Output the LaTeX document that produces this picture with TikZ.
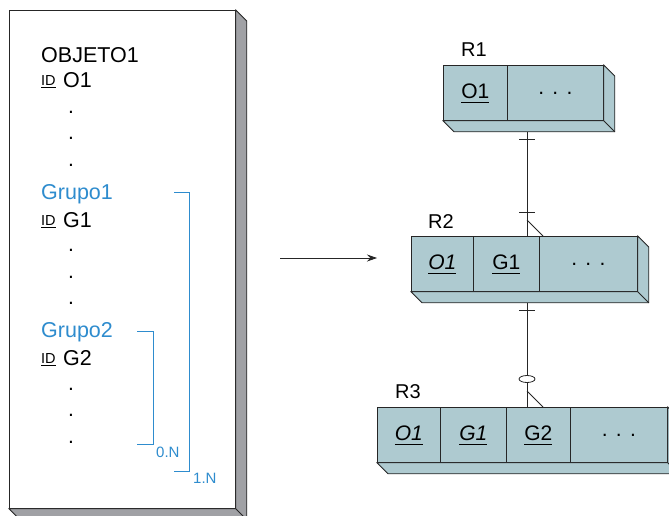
\documentclass[tikz,border=0pt]{standalone}
\usepackage{fontspec}
\setmainfont{Liberation Sans}
\usetikzlibrary{calc,arrows.meta}
\definecolor{boxc}{RGB}{174,202,208}
\definecolor{blu}{RGB}{46,140,206}
\definecolor{sidec}{RGB}{160,161,165}
\newcommand\uline[2][4pt]{\setbox0\hbox{#2}\rlap{\rule[-#1]{\wd0}{0.6pt}}\box0}
\newcommand\boxdepth[3]{%
  \draw[line width=0.8pt, draw=black!85, fill=#3] (#1.south west) -- ++(11,11) -- ($(#2.south east)+(11,11)$) -- ($(#2.north east)+(11,11)$) -- (#2.north east) -- (#2.south east) -- cycle;
  \draw[line width=0.8pt, draw=black!85] (#2.south east) -- ++(11,11);}
\begin{document}
\begin{tikzpicture}[x=1pt,y=-1pt,
  cell/.style={draw=black!85, fill=boxc, line width=0.8pt, minimum height=55pt, inner sep=0pt, anchor=north west, font=\fontsize{21}{21}\selectfont},
  txt/.style={anchor=base west, inner sep=0pt, font=\fontsize{21.5}{21.5}\selectfont},
  idt/.style={anchor=base west, inner sep=0pt, font=\fontsize{14.5}{14.5}\selectfont},
  lab/.style={anchor=base west, inner sep=0pt, text=blu, font=\fontsize{15}{15}\selectfont},
  rlab/.style={anchor=base west, inner sep=0pt, font=\fontsize{20}{20}\selectfont},
  dotn/.style={anchor=base, inner sep=0pt, font=\fontsize{21}{21}\selectfont},
  conn/.style={line width=0.8pt, draw=black!85},
  brk/.style={line width=0.8pt, draw=blu}]
\useasboundingbox (0,0) rectangle (669,515);
\clip (0,0) rectangle (669,515);
% left object box
\node[draw=black!85, line width=0.8pt, fill=white, minimum width=226pt, minimum height=498pt, inner sep=0pt, anchor=north west] (obj) at (9,10) {};
\boxdepth{obj}{obj}{sidec}
\node[txt] (t0) at (41,62) {OBJETO1};
\node[idt] (i1) at (41,85) {\uline[3pt]{ID}};
\node[txt] (o1) at (63,87) {O1};
\node[dotn] (d1) at (71,113) {.};
\node[dotn] (d2) at (71,139) {.};
\node[dotn] (d3) at (71,166) {.};
\node[txt, text=blu] (g1t) at (41,199) {Grupo1};
\node[idt] (i2) at (41,225) {\uline[3pt]{ID}};
\node[txt] (g1) at (63,227) {G1};
\node[dotn] (d4) at (71,251) {.};
\node[dotn] (d5) at (71,278) {.};
\node[dotn] (d6) at (71,304) {.};
\node[txt, text=blu] (g2t) at (41,337) {Grupo2};
\node[idt] (i3) at (41,363) {\uline[3pt]{ID}};
\node[txt] (g2) at (63,365) {G2};
\node[dotn] (d7) at (71,390) {.};
\node[dotn] (d8) at (71,416) {.};
\node[dotn] (d9) at (71,443) {.};
% brackets
\draw[brk] (174,192) -- (189,192) -- (189,471) -- (174,471);
\draw[brk] (137,331) -- (153,331) -- (153,444) -- (137,444);
\node[lab] (l1) at (193,483) {1.N};
\node[lab] (l0) at (156,457) {0.N};
% arrow
\coordinate (a1) at (280,258);
\coordinate (a2) at (377,258);
\draw[conn, -{Stealth[length=10pt,width=7pt]}] (a1) -- (a2);
% R1
\node[rlab] (R1) at (461,56) {R1};
\node[cell, minimum width=64pt] (r1a) at (443,65) {\uline{O1}};
\node[cell, minimum width=96pt] (r1b) at (507,65) {.\hspace{0.4em}.\hspace{0.4em}.};
\boxdepth{r1a}{r1b}{boxc}
% R2
\node[rlab] (R2) at (428,228) {R2};
\node[cell, minimum width=62pt] (r2a) at (411,236) {\uline{\itshape O1}};
\node[cell, minimum width=66pt] (r2b) at (473,236) {\uline{G1}};
\node[cell, minimum width=98pt] (r2c) at (539,236) {.\hspace{0.4em}.\hspace{0.4em}.};
\boxdepth{r2a}{r2c}{boxc}
% R3
\node[rlab] (R3) at (395,398) {R3};
\node[cell, minimum width=63pt] (r3a) at (377,407) {\uline{\itshape O1}};
\node[cell, minimum width=66pt] (r3b) at (440,407) {\uline{\itshape G1}};
\node[cell, minimum width=64pt] (r3c) at (506,407) {\uline{G2}};
\node[cell, minimum width=97pt] (r3d) at (570,407) {.\hspace{0.4em}.\hspace{0.4em}.};
\boxdepth{r3a}{r3d}{boxc}
% connectors
\coordinate (cx) at (527,0);
\coordinate (t1) at ($(r1b.south -| cx)+(0,11)$);
\coordinate (t2) at (r2a.north -| cx);
\coordinate (t3) at ($(r2b.south -| cx)+(0,11)$);
\coordinate (t4) at (r3c.north -| cx);
\draw[conn] (t1) -- (t2);
\draw[conn] ($(t1)+(-8,8)$) -- ($(t1)+(8,8)$);
\draw[conn] ($(t2)+(-8,-24)$) -- ($(t2)+(8,-24)$);
\draw[conn] ($(t2)+(0,-16)$) -- ($(t2)+(16,0)$);
\draw[conn] (t3) -- (t4);
\draw[conn] ($(t3)+(-8,8)$) -- ($(t3)+(8,8)$);
\draw[conn, fill=white] ($(t4)+(0,-28)$) ellipse [x radius=8, y radius=3.5];
\draw[conn] ($(t4)+(0,-16)$) -- ($(t4)+(16,0)$);
\end{tikzpicture}
\end{document}
